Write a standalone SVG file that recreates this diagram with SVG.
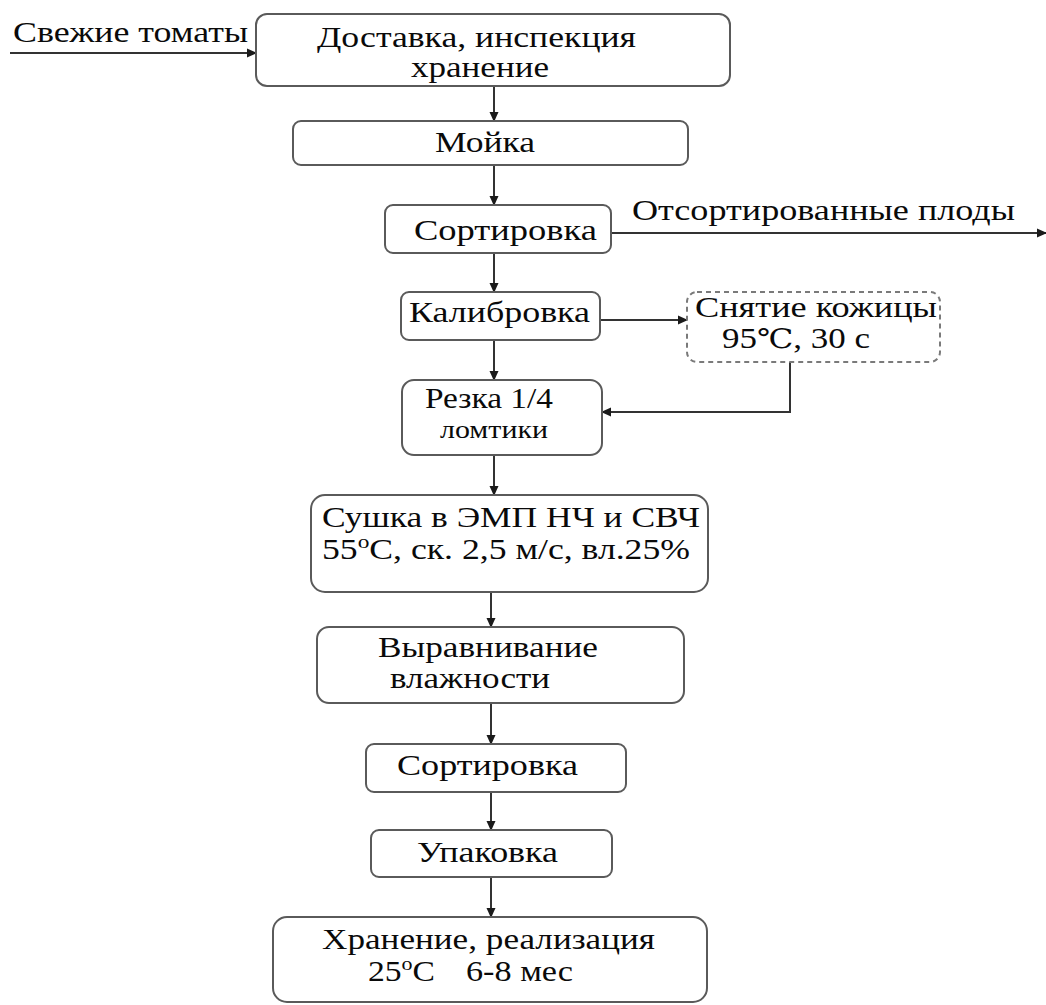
<svg xmlns="http://www.w3.org/2000/svg" width="1046" height="1005" viewBox="0 0 1046 1005">
<defs>
<marker id="ah" markerWidth="10" markerHeight="10" refX="9" refY="5" orient="auto" markerUnits="userSpaceOnUse">
<path d="M0,0.5 L10,5 L0,9.5 z" fill="#1a1a1a"/>
</marker>
<style>
.box{fill:#fff;stroke:#5a5a5a;stroke-width:2}
.dash{fill:#fff;stroke:#7a7a7a;stroke-width:2;stroke-dasharray:5 4}
.t{font-family:"Liberation Serif","Times New Roman",serif;font-size:29px;fill:#0a0a0a}
.s{font-family:"Liberation Serif","Times New Roman",serif;font-size:25px;fill:#0a0a0a}
.ln{fill:none;stroke:#333;stroke-width:2}
</style>
</defs>
<rect width="1046" height="1005" fill="#fff"/>
<g id="connectors">
<line class="ln" x1="10" y1="53" x2="256" y2="53" marker-end="url(#ah)"/>
<line class="ln" x1="494" y1="86" x2="494" y2="121" marker-end="url(#ah)"/>
<line class="ln" x1="494" y1="165" x2="494" y2="205" marker-end="url(#ah)"/>
<line class="ln" x1="611" y1="233" x2="1046" y2="233" marker-end="url(#ah)"/>
<line class="ln" x1="494" y1="253" x2="494" y2="292" marker-end="url(#ah)"/>
<line class="ln" x1="600" y1="320" x2="687" y2="320" marker-end="url(#ah)"/>
<polyline class="ln" points="790,362 790,412 602,412" marker-end="url(#ah)"/>
<line class="ln" x1="494" y1="340" x2="494" y2="380" marker-end="url(#ah)"/>
<line class="ln" x1="494" y1="455" x2="494" y2="495" marker-end="url(#ah)"/>
<line class="ln" x1="491" y1="592" x2="491" y2="627" marker-end="url(#ah)"/>
<line class="ln" x1="491" y1="703" x2="491" y2="744" marker-end="url(#ah)"/>
<line class="ln" x1="491" y1="792" x2="491" y2="830" marker-end="url(#ah)"/>
<line class="ln" x1="491" y1="877" x2="491" y2="917" marker-end="url(#ah)"/>
</g>
<g id="input-label">
<text class="t" x="13" y="42" textLength="235" lengthAdjust="spacingAndGlyphs">Свежие томаты</text>
</g>
<g id="output-label">
<text class="t" x="632" y="220" textLength="383" lengthAdjust="spacingAndGlyphs">Отсортированные плоды</text>
</g>
<g id="n1">
<rect class="box" x="256" y="14" width="474" height="72" rx="11"/>
<text class="t" x="317" y="47" textLength="319" lengthAdjust="spacingAndGlyphs">Доставка, инспекция</text>
<text class="t" x="411" y="77" textLength="138" lengthAdjust="spacingAndGlyphs">хранение</text>
</g>
<g id="n2">
<rect class="box" x="293" y="121" width="395" height="44" rx="8"/>
<text class="t" x="435" y="152" textLength="100" lengthAdjust="spacingAndGlyphs">Мойка</text>
</g>
<g id="n3">
<rect class="box" x="385" y="205" width="226" height="48" rx="8"/>
<text class="t" x="414" y="240" textLength="183" lengthAdjust="spacingAndGlyphs">Сортировка</text>
</g>
<g id="n4">
<rect class="box" x="401" y="292" width="199" height="48" rx="8"/>
<text class="t" x="409" y="322" textLength="181" lengthAdjust="spacingAndGlyphs">Калибровка</text>
</g>
<g id="n5">
<rect class="dash" x="687" y="292" width="253" height="70" rx="10"/>
<text class="t" x="695" y="317" textLength="242" lengthAdjust="spacingAndGlyphs">Снятие кожицы</text>
<text class="t" x="722" y="348" font-size="30" textLength="148" lengthAdjust="spacingAndGlyphs">95<tspan font-family="DejaVu Serif" font-size="27">℃</tspan>, 30 с</text>
</g>
<g id="n6">
<rect class="box" x="402" y="380" width="200" height="75" rx="12"/>
<text class="t" x="425" y="408" textLength="128" lengthAdjust="spacingAndGlyphs">Резка 1/4</text>
<text class="s" x="440" y="438" textLength="108" lengthAdjust="spacingAndGlyphs">ломтики</text>
</g>
<g id="n7">
<rect class="box" x="311" y="495" width="397" height="97" rx="14"/>
<text class="t" x="322" y="527" textLength="378" lengthAdjust="spacingAndGlyphs">Сушка в ЭМП НЧ и СВЧ</text>
<text class="t" x="322" y="559" textLength="368" lengthAdjust="spacingAndGlyphs">55<tspan font-size="19" dy="-11">o</tspan><tspan dy="11">С, ск. 2,5 м/с, вл.25%</tspan></text>
</g>
<g id="n8">
<rect class="box" x="317" y="627" width="367" height="76" rx="12"/>
<text class="t" x="378" y="657" textLength="220" lengthAdjust="spacingAndGlyphs">Выравнивание</text>
<text class="t" x="390" y="688" textLength="160" lengthAdjust="spacingAndGlyphs">влажности</text>
</g>
<g id="n9">
<rect class="box" x="366" y="744" width="260" height="48" rx="8"/>
<text class="t" x="397" y="775" textLength="181" lengthAdjust="spacingAndGlyphs">Сортировка</text>
</g>
<g id="n10">
<rect class="box" x="371" y="830" width="241" height="47" rx="8"/>
<text class="t" x="417" y="862" textLength="141" lengthAdjust="spacingAndGlyphs">Упаковка</text>
</g>
<g id="n11">
<rect class="box" x="273" y="917" width="434" height="85" rx="14"/>
<text class="t" x="322" y="949" textLength="333" lengthAdjust="spacingAndGlyphs">Хранение, реализация</text>
<text class="t" x="368" y="981" textLength="67" lengthAdjust="spacingAndGlyphs">25<tspan font-size="19" dy="-11">o</tspan><tspan dy="11">С</tspan></text>
<text class="t" x="466" y="981" textLength="107" lengthAdjust="spacingAndGlyphs">6-8 мес</text>
</g>
</svg>
